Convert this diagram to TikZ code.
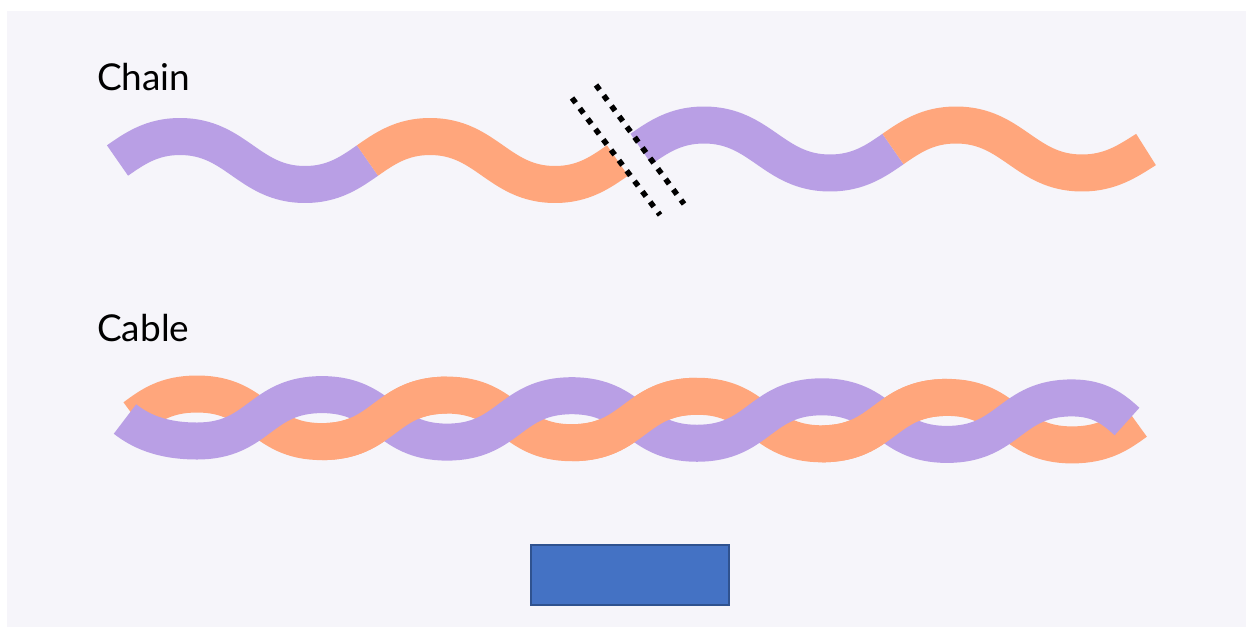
\documentclass[tikz,border=0pt]{standalone}
\usepackage{fontspec}
\setmainfont{Lato}
\definecolor{panel}{RGB}{246,245,250}
\definecolor{lilac}{RGB}{185,159,229}
\definecolor{peach}{RGB}{255,166,124}
\definecolor{boxfill}{RGB}{68,114,196}
\definecolor{boxline}{RGB}{47,82,143}
\begin{document}
\begin{tikzpicture}[x=1pt,y=-1pt,
  strand/.style={line width=37pt, line cap=butt, line join=round},
  cut/.style={line width=5.5pt, black, dash pattern=on 6pt off 7pt},
  label/.style={anchor=base west, inner sep=0pt, font=\fontsize{37}{42}\selectfont, text=black}]
\useasboundingbox (0,0) rectangle (1246,627);
\fill[white] (0,0) rectangle (1246,627);
\fill[panel] (7,11) rectangle (1246,627);

% labels
\node[label] (chainlbl) at (97,90.7) {Chain};
\node[label] (cablelbl) at (97,341) {Cable};

% ---- Chain, left piece
\draw[strand, lilac] (117.5,160.5) .. controls (134.7,148.5) and (151.9,136.5) .. (180,136.5)
  .. controls (236.25,136.5) and (248.75,184.5) .. (305,184.5)
  .. controls (333.1,184.5) and (350.3,172.5) .. (367.5,160.5);
\draw[strand, peach] (367.5,160.5) .. controls (384.7,148.5) and (401.9,136.5) .. (430,136.5)
  .. controls (486.25,136.5) and (498.75,184.5) .. (555,184.5)
  .. controls (583.1,184.5) and (600.3,172.5) .. (617.5,160.5);
% ---- Chain, right piece
\draw[strand, lilac] (641,149) .. controls (658.3,137) and (675.65,125) .. (704,125)
  .. controls (760.7,125) and (773.3,173) .. (830,173)
  .. controls (858.35,173) and (875.7,161) .. (893,149);
\draw[strand, peach] (893,149) .. controls (910.3,137) and (927.65,125) .. (956,125)
  .. controls (1012.7,125) and (1025.3,173) .. (1082,173)
  .. controls (1110.35,173) and (1127.7,161) .. (1146,149.5);

% ---- break marks
\coordinate (c1a) at (572,98);
\coordinate (c1b) at (660,215);
\coordinate (c2a) at (596,85);
\coordinate (c2b) at (684,204);
\draw[cut] (c1a) -- (c1b);
\draw[cut] (c2a) -- (c2b);

% ---- Cable
\draw[strand, peach] (134.5,417.2) .. controls (150.1,405.6) and (165.75,394) .. (197,394)
  .. controls (259.5,394) and (259.5,441.6) .. (322,441.6)
  .. controls (384.5,441.6) and (384.5,395.1) .. (447,395.1)
  .. controls (509.5,395.1) and (509.5,442.7) .. (572,442.7)
  .. controls (634.5,442.7) and (634.5,396.25) .. (697,396.25)
  .. controls (759.5,396.25) and (759.5,443.8) .. (822,443.8)
  .. controls (884.5,443.8) and (884.5,397.4) .. (947,397.4)
  .. controls (1009.5,397.4) and (1009.5,444.9) .. (1072,444.9)
  .. controls (1104,444.9) and (1120,433.3) .. (1136,421.7);
\draw[strand, lilac] (125,419) .. controls (139,430) and (160,441) .. (197,441)
  .. controls (259.5,441) and (259.5,394.6) .. (322,394.6)
  .. controls (384.5,394.6) and (384.5,442.1) .. (447,442.1)
  .. controls (509.5,442.1) and (509.5,395.7) .. (572,395.7)
  .. controls (634.5,395.7) and (634.5,443.25) .. (697,443.25)
  .. controls (759.5,443.25) and (759.5,396.8) .. (822,396.8)
  .. controls (884.5,396.8) and (884.5,444.4) .. (947,444.4)
  .. controls (1009.5,444.4) and (1009.5,397.9) .. (1072,397.9)
  .. controls (1100,397.9) and (1114,409.7) .. (1127,421.5);
% orange rising parts on top
\draw[strand, peach] (322,441.6) .. controls (384.5,441.6) and (384.5,395.1) .. (447,395.1);
\draw[strand, peach] (572,442.7) .. controls (634.5,442.7) and (634.5,396.25) .. (697,396.25);
\draw[strand, peach] (822,443.8) .. controls (884.5,443.8) and (884.5,397.4) .. (947,397.4);

% ---- blue box
\node[draw=boxline, fill=boxfill, line width=2pt, minimum width=198pt, minimum height=60pt, inner sep=0pt] (box) at (630,575) {};
\end{tikzpicture}
\end{document}
